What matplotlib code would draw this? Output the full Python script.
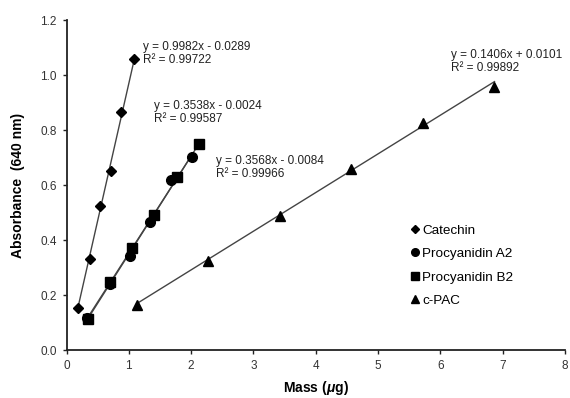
import numpy as np
import matplotlib
matplotlib.use('Agg')
import matplotlib.pyplot as plt

plt.rcParams['font.family'] = ['Liberation Sans', 'DejaVu Sans']
plt.rcParams['mathtext.fontset'] = 'custom'
plt.rcParams['mathtext.it'] = 'Liberation Sans:italic:bold'
plt.rcParams['mathtext.rm'] = 'Liberation Sans:bold'

# data
cat_x = [0.19, 0.37, 0.54, 0.71, 0.88, 1.08]
cat_y = [0.152, 0.330, 0.525, 0.652, 0.864, 1.057]

a2_x = [0.33, 0.70, 1.02, 1.34, 1.67, 2.02]
a2_y = [0.115, 0.240, 0.342, 0.467, 0.620, 0.703]

b2_x = [0.35, 0.70, 1.05, 1.40, 1.78, 2.12]
b2_y = [0.112, 0.248, 0.370, 0.490, 0.630, 0.748]

pac_x = [1.13, 2.27, 3.42, 4.57, 5.72, 6.87]
pac_y = [0.164, 0.324, 0.487, 0.660, 0.827, 0.957]

# trendline coefficients (slope, intercept) and labels
fits = {
    'Catechin': (0.9982, -0.0289, 'y = 0.9982x - 0.0289\nR² = 0.99722'),
    'Procyanidin A2': (0.3538, -0.0024, 'y = 0.3538x - 0.0024\nR² = 0.99587'),
    'Procyanidin B2': (0.3568, -0.0084, 'y = 0.3568x - 0.0084\nR² = 0.99966'),
    'c-PAC': (0.1406, 0.0101, 'y = 0.1406x + 0.0101\nR² = 0.99892'),
}

series = [
    ('Catechin', cat_x, cat_y, 'D', 5),
    ('Procyanidin A2', a2_x, a2_y, 'o', 7),
    ('Procyanidin B2', b2_x, b2_y, 's', 7),
    ('c-PAC', pac_x, pac_y, '^', 7),
]

# where the equation labels sit (data coords)
label_pos = {
    'Catechin': (1.22, 1.125),
    'Procyanidin A2': (1.41, 0.91),
    'Procyanidin B2': (2.40, 0.71),
    'c-PAC': (6.17, 1.095),
}

fig = plt.figure(figsize=(5.7, 3.98), dpi=100)
ax = fig.add_axes([0.1167, 0.1206, 0.8743, 0.8291])

handles = []
for name, xs, ys, mk, ms in series:
    m, b, txt = fits[name]
    xl = np.array([min(xs), max(xs)])
    ax.plot(xl, m * xl + b, color='#444444', lw=1.0, zorder=1)
    h, = ax.plot(xs, ys, linestyle='none', marker=mk, ms=ms, color='black',
                 markeredgecolor='black', zorder=3, label=name)
    handles.append(h)
    tx, ty = label_pos[name]
    ax.text(tx, ty, txt, fontsize=8.5, color='#222222', va='top', ha='left',
            linespacing=1.1)

ax.set_xlim(0, 8)
ax.set_ylim(0, 1.2)
ax.set_xticks(range(0, 9))
ax.set_yticks(np.arange(0, 1.21, 0.2))
ax.set_yticklabels(['0.0', '0.2', '0.4', '0.6', '0.8', '1.0', '1.2'])

for s in ['top', 'right']:
    ax.spines[s].set_visible(False)
for s in ['left', 'bottom']:
    ax.spines[s].set_linewidth(1.3)
    ax.spines[s].set_color('#222222')
ax.tick_params(direction='out', length=3, width=1, labelsize=8.5, colors='#222222',
               labelcolor='#333333', pad=4)

ax.set_xlabel('Mass ($\\mu$g)', fontsize=10, fontweight='bold', labelpad=5)
ax.set_ylabel('Absorbance  (640 nm)', fontsize=10, fontweight='bold', labelpad=11)

leg = ax.legend(handles=[
    plt.Line2D([], [], linestyle='none', marker='D', ms=4, color='black'),
    plt.Line2D([], [], linestyle='none', marker='o', ms=5.5, color='black'),
    plt.Line2D([], [], linestyle='none', marker='s', ms=5.5, color='black'),
    plt.Line2D([], [], linestyle='none', marker='^', ms=5.5, color='black'),
], labels=[s[0] for s in series], frameon=False, fontsize=9.7,
    handlelength=0.4, handletextpad=0.3, labelspacing=0.82,
    loc='upper left', bbox_to_anchor=(0.67, 0.418))

plt.savefig('out.png', dpi=100)
